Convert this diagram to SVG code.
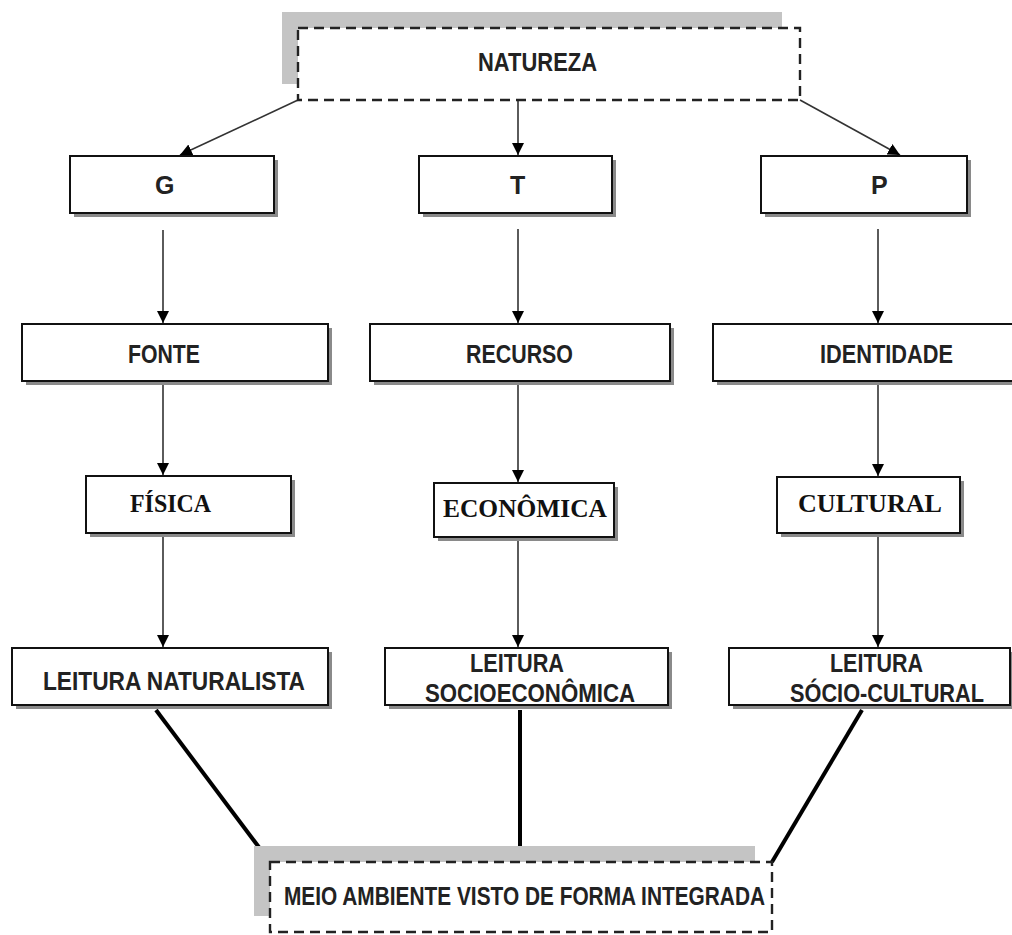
<svg xmlns="http://www.w3.org/2000/svg" width="1012" height="935" viewBox="0 0 1012 935">
<style>
.box{fill:#fff;stroke:#111;stroke-width:2}
.sh{fill:#8a8a8a}
.dbox{fill:#fff;stroke:#222;stroke-width:2.4;stroke-dasharray:10 6}
.gsh{fill:#c4c4c4}
.t{font-family:"Liberation Sans",Arial,sans-serif;font-weight:bold;font-size:25px;fill:#222}
.s{font-family:"Liberation Serif","Times New Roman",serif;font-weight:bold;font-size:25px;fill:#111}
.ln{stroke:#333;stroke-width:1.6;fill:none}
.th{stroke:#000;stroke-width:4;fill:none}
</style>
<defs>
<marker id="ah" viewBox="0 0 12 12" refX="12" refY="6" markerWidth="12" markerHeight="12" markerUnits="userSpaceOnUse" orient="auto">
<path d="M0,0 L12,6 L0,12 z" fill="#000"/>
</marker>
</defs>
<rect width="1012" height="935" fill="#fff"/>
<g id="connectors">
<line class="ln" x1="298" y1="100" x2="180" y2="155" marker-end="url(#ah)"/>
<line class="ln" x1="518" y1="100" x2="518" y2="155" marker-end="url(#ah)"/>
<line class="ln" x1="800" y1="100" x2="900" y2="155" marker-end="url(#ah)"/>
<line class="ln" x1="163" y1="230" x2="163" y2="323" marker-end="url(#ah)"/>
<line class="ln" x1="163" y1="382" x2="163" y2="475" marker-end="url(#ah)"/>
<line class="ln" x1="163" y1="534" x2="163" y2="647" marker-end="url(#ah)"/>
<line class="ln" x1="518" y1="229" x2="518" y2="323" marker-end="url(#ah)"/>
<line class="ln" x1="518" y1="382" x2="518" y2="482" marker-end="url(#ah)"/>
<line class="ln" x1="518" y1="538" x2="518" y2="647" marker-end="url(#ah)"/>
<line class="ln" x1="878" y1="229" x2="878" y2="323" marker-end="url(#ah)"/>
<line class="ln" x1="878" y1="382" x2="878" y2="476" marker-end="url(#ah)"/>
<line class="ln" x1="878" y1="534" x2="878" y2="647" marker-end="url(#ah)"/>
<line class="th" x1="156" y1="710" x2="270" y2="862"/>
<line class="th" x1="520" y1="710" x2="520" y2="862"/>
<line class="th" x1="862" y1="710" x2="772" y2="862"/>
</g>
<g id="natureza">
<rect class="gsh" x="282" y="12" width="500" height="72"/>
<rect class="dbox" x="298" y="28" width="502" height="72"/>
<text class="t" x="478" y="71" textLength="119" lengthAdjust="spacingAndGlyphs">NATUREZA</text>
</g>
<g id="g">
<rect class="sh" x="74" y="160" width="204" height="57"/>
<rect class="box" x="70" y="156" width="204" height="57"/>
<text class="t" x="155" y="194" font-size="23">G</text>
</g>
<g id="t">
<rect class="sh" x="423" y="160" width="193" height="57"/>
<rect class="box" x="419" y="156" width="193" height="57"/>
<text class="t" x="510" y="194" font-size="23">T</text>
</g>
<g id="p">
<rect class="sh" x="765" y="160" width="206" height="57"/>
<rect class="box" x="761" y="156" width="206" height="57"/>
<text class="t" x="871" y="194" font-size="23">P</text>
</g>
<g id="fonte">
<rect class="sh" x="26" y="328" width="306" height="57"/>
<rect class="box" x="22" y="324" width="306" height="57"/>
<text class="t" x="128" y="363" textLength="72" lengthAdjust="spacingAndGlyphs">FONTE</text>
</g>
<g id="recurso">
<rect class="sh" x="374" y="328" width="300" height="57"/>
<rect class="box" x="370" y="324" width="300" height="57"/>
<text class="t" x="466" y="363" textLength="107" lengthAdjust="spacingAndGlyphs">RECURSO</text>
</g>
<g id="identidade">
<rect class="sh" x="717" y="328" width="300" height="57"/>
<rect class="box" x="713" y="324" width="300" height="57"/>
<text class="t" x="820" y="363" textLength="133" lengthAdjust="spacingAndGlyphs">IDENTIDADE</text>
</g>
<g id="fisica">
<rect class="sh" x="90" y="480" width="205" height="57"/>
<rect class="box" x="86" y="476" width="205" height="57"/>
<text class="s" x="130" y="512" textLength="81" lengthAdjust="spacingAndGlyphs">FÍSICA</text>
</g>
<g id="economica">
<rect class="sh" x="438" y="487" width="180" height="54"/>
<rect class="box" x="434" y="483" width="180" height="54"/>
<text class="s" x="443" y="517" textLength="164" lengthAdjust="spacingAndGlyphs">ECONÔMICA</text>
</g>
<g id="cultural">
<rect class="sh" x="781" y="481" width="183" height="56"/>
<rect class="box" x="777" y="477" width="183" height="56"/>
<text class="s" x="798" y="512" textLength="144" lengthAdjust="spacingAndGlyphs">CULTURAL</text>
</g>
<g id="leitura-naturalista">
<rect class="sh" x="16" y="652" width="316" height="57"/>
<rect class="box" x="12" y="648" width="316" height="57"/>
<text class="t" x="43" y="690" textLength="262" lengthAdjust="spacingAndGlyphs">LEITURA NATURALISTA</text>
</g>
<g id="leitura-socioeconomica">
<rect class="sh" x="389" y="652" width="283" height="57"/>
<rect class="box" x="385" y="648" width="283" height="57"/>
<text class="t" x="470" y="672" textLength="94" lengthAdjust="spacingAndGlyphs">LEITURA</text>
<text class="t" x="425" y="702" textLength="210" lengthAdjust="spacingAndGlyphs">SOCIOECONÔMICA</text>
</g>
<g id="leitura-sociocultural">
<rect class="sh" x="733" y="652" width="281" height="57"/>
<rect class="box" x="729" y="648" width="281" height="57"/>
<text class="t" x="830" y="672" textLength="93" lengthAdjust="spacingAndGlyphs">LEITURA</text>
<text class="t" x="790" y="702" textLength="194" lengthAdjust="spacingAndGlyphs">SÓCIO-CULTURAL</text>
</g>
<g id="meio-ambiente">
<rect class="gsh" x="254" y="846" width="501" height="70"/>
<rect class="dbox" x="270" y="862" width="502" height="70"/>
<text class="t" x="284" y="905" font-size="23" textLength="481" lengthAdjust="spacingAndGlyphs">MEIO AMBIENTE VISTO DE FORMA INTEGRADA</text>
</g>
</svg>
